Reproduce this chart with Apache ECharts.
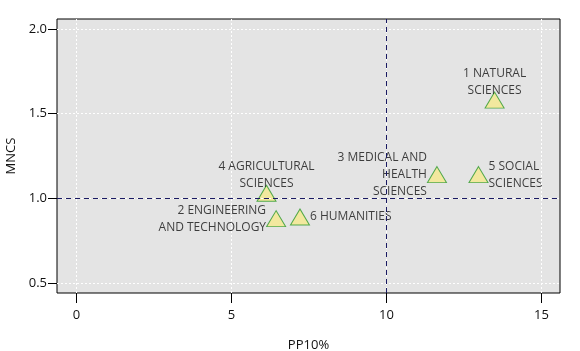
<!DOCTYPE html>
<html>
<head>
<meta charset="utf-8">
<title>MNCS vs PP10%</title>
<script src="https://cdn.jsdelivr.net/npm/echarts@6/dist/echarts.min.js"></script>
<style>
  html, body { margin: 0; padding: 0; background: #fff; }
  #chart { width: 580px; height: 351px; }
</style>
</head>
<body>
<div id="chart"></div>
<script>
// field names as printed next to each marker
const fields = [
  '1 NATURAL\nSCIENCES',
  '2 ENGINEERING\nAND TECHNOLOGY',
  '3 MEDICAL AND\nHEALTH\nSCIENCES',
  '4 AGRICULTURAL\nSCIENCES',
  '5 SOCIAL\nSCIENCES',
  '6 HUMANITIES'
]
const pp10 = [13.49, 6.44, 11.63, 6.13, 12.97, 7.21]
const mncs = [1.58, 0.88, 1.14, 1.03, 1.14, 0.89]

const xTicks = [0, 5, 10, 15]
const yTicks = [0.5, 1.0, 1.5, 2.0]
const refX = 10   // world average PP10%
const refY = 1.0  // world average MNCS

// where each label sits relative to its triangle
const labelSide = ['top', 'left', 'left', 'top', 'right', 'right']

const font = '"Open Sans", "DejaVu Sans", sans-serif'

const chart = echarts.init(document.getElementById('chart'))

const points = fields.map((name, i) => {
  const side = labelSide[i]
  return {
    name: name,
    value: [pp10[i], mncs[i]],
    label: {
      position: side,
      distance: side === 'top' ? -7 : 0,
      align: side === 'left' ? 'right' : (side === 'right' ? 'left' : 'center')
    }
  }
})

const gridLine = { color: '#ffffff', type: [2, 2], width: 1 }

chart.setOption({
  animation: false,
  grid: {
    left: 57,
    right: 20,
    top: 19,
    bottom: 58,
    outerBoundsMode: 'none',
    show: true,
    backgroundColor: '#e4e4e4',
    borderColor: '#000',
    borderWidth: 1
  },
  xAxis: {
    type: 'value',
    min: -0.63,
    max: 15.6,
    name: 'PP10%',
    nameLocation: 'middle',
    nameGap: 46,
    nameTextStyle: { fontFamily: font, fontSize: 13, color: '#111' },
    axisLine: { show: false, onZero: false },
    axisTick: { show: true, length: 10, customValues: xTicks, lineStyle: { color: '#000' } },
    axisLabel: { customValues: xTicks, margin: 16, fontFamily: font, fontSize: 13, color: '#111' },
    splitLine: { show: false }
  },
  yAxis: {
    type: 'value',
    min: 0.441,
    max: 2.059,
    name: 'MNCS',
    nameLocation: 'middle',
    nameGap: 37,
    nameTextStyle: { fontFamily: font, fontSize: 13, color: '#111' },
    axisLine: { show: false, onZero: false },
    axisTick: { show: true, length: 9, customValues: yTicks, lineStyle: { color: '#000' } },
    axisLabel: {
      customValues: yTicks,
      margin: 10,
      fontFamily: font,
      fontSize: 13,
      color: '#111',
      formatter: v => v.toFixed(1)
    },
    splitLine: { show: false }
  },
  series: [
    {
      // white dotted grid at the tick positions
      type: 'scatter',
      data: [],
      silent: true,
      markLine: {
        symbol: 'none',
        silent: true,
        label: { show: false },
        lineStyle: gridLine,
        data: xTicks.map(v => ({ xAxis: v })).concat(yTicks.map(v => ({ yAxis: v })))
      }
    },
    {
      type: 'scatter',
      symbol: 'triangle',
      symbolSize: [19, 16],
      itemStyle: { color: '#f5e98c', borderColor: '#2c9a2c', borderWidth: 1 },
      label: {
        show: true,
        formatter: p => p.name,
        fontFamily: font,
        fontSize: 12,
        lineHeight: 17,
        color: '#111'
      },
      data: points,
      markLine: {
        symbol: 'none',
        silent: true,
        label: { show: false },
        lineStyle: { color: '#1a1a62', type: [5, 4], width: 1 },
        data: [{ xAxis: refX }, { yAxis: refY }]
      }
    }
  ]
})
</script>
</body>
</html>
